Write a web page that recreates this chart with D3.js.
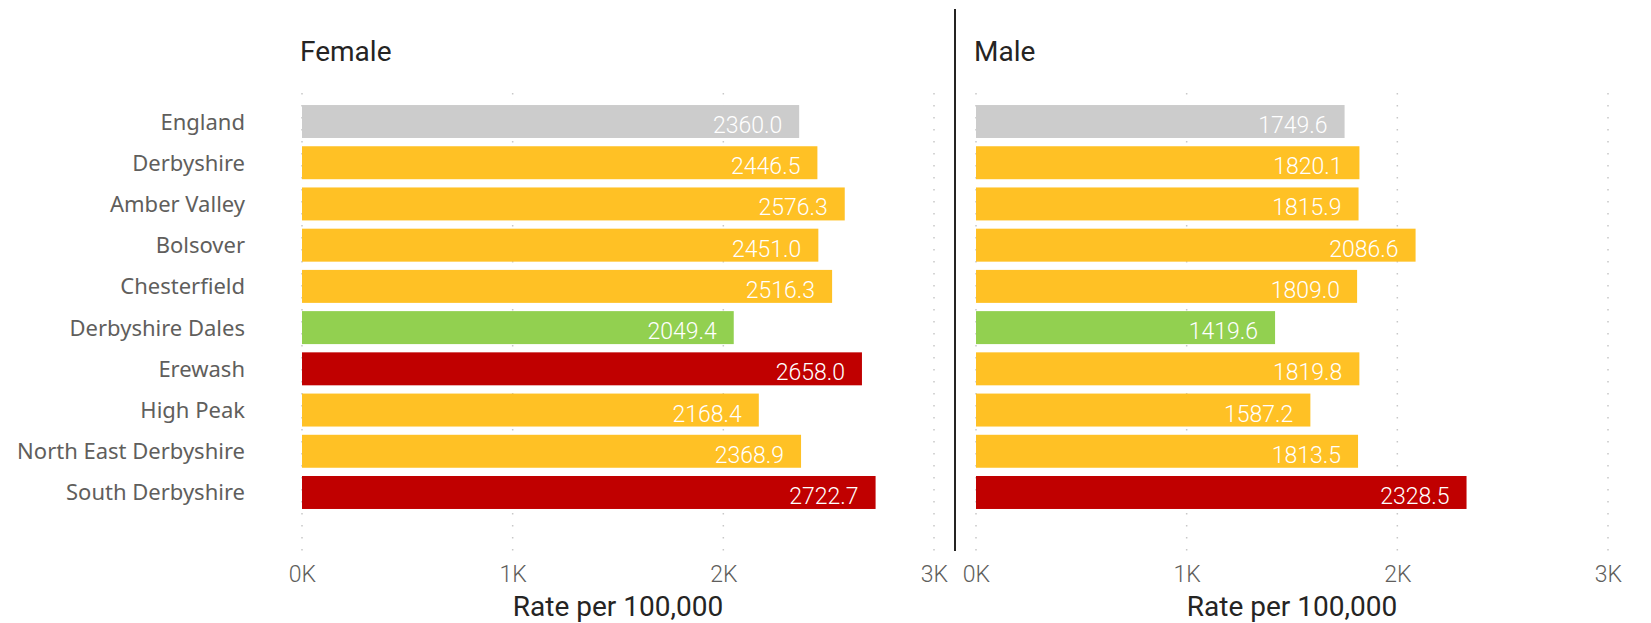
<!DOCTYPE html>
<html>
<head>
<meta charset="utf-8">
<script src="https://cdn.jsdelivr.net/npm/d3@7"></script>
<style>
  body { margin: 0; background: #fff; }
  svg { display: block; }
</style>
</head>
<body>
<div id="chart"></div>
<script>
// Data
const areas = ["England", "Derbyshire", "Amber Valley", "Bolsover", "Chesterfield",
  "Derbyshire Dales", "Erewash", "High Peak", "North East Derbyshire", "South Derbyshire"];
const femaleRates = [2360.0, 2446.5, 2576.3, 2451.0, 2516.3, 2049.4, 2658.0, 2168.4, 2368.9, 2722.7];
const maleRates = [1749.6, 1820.1, 1815.9, 2086.6, 1809.0, 1419.6, 1819.8, 1587.2, 1813.5, 2328.5];
// comparison with England: "eng" = benchmark, "sim" = similar, "low" = better, "high" = worse
const femaleStatus = ["eng", "sim", "sim", "sim", "sim", "low", "high", "sim", "sim", "high"];
const maleStatus = ["eng", "sim", "sim", "sim", "sim", "low", "sim", "sim", "sim", "high"];
const xTicks = [0, 1000, 2000, 3000];

const statusColor = { eng: "#cccccc", sim: "#ffc125", low: "#92d050", high: "#c00000" };

const width = 1651, height = 623;
const svg = d3.select("#chart").append("svg")
    .attr("width", width)
    .attr("height", height);

const y = d3.scaleBand()
    .domain(areas)
    .range([100.9, 513.1])
    .paddingInner(0.2)
    .paddingOuter(0.1);

const gridTop = 93, gridBottom = 553;

// category labels (left side only)
svg.append("g")
    .selectAll("text")
    .data(areas)
    .enter()
    .append("text")
    .attr("x", 245)
    .attr("y", d => y(d) + y.bandwidth() / 2 + 8)
    .attr("text-anchor", "end")
    .style("font-family", "'Noto Sans', 'Open Sans', sans-serif")
    .style("font-size", "22px")
    .style("fill", "#605e5c")
    .text(d => d);

function drawPanel(title, values, status, x0, x1) {
    const x = d3.scaleLinear().domain([0, 3000]).range([x0, x1]);
    const g = svg.append("g");

    // dotted gridlines
    g.append("g")
        .selectAll("line")
        .data(xTicks)
        .enter()
        .append("line")
        .attr("x1", d => x(d))
        .attr("x2", d => x(d))
        .attr("y1", gridTop)
        .attr("y2", gridBottom)
        .attr("stroke", "#c8c8c8")
        .attr("stroke-width", 1.5)
        .attr("stroke-dasharray", "1.5,10.5");

    const rows = areas.map((a, i) => ({ key: a, value: values[i], status: status[i] }));

    g.append("g")
        .selectAll("rect")
        .data(rows)
        .enter()
        .append("rect")
        .attr("x", x(0))
        .attr("y", d => y(d.key))
        .attr("width", d => x(d.value) - x(0))
        .attr("height", y.bandwidth())
        .attr("fill", d => statusColor[d.status]);

    g.append("g")
        .selectAll("text")
        .data(rows)
        .enter()
        .append("text")
        .attr("x", d => x(d.value) - 17)
        .attr("y", d => y(d.key) + y.bandwidth() / 2 + 11.5)
        .attr("text-anchor", "end")
        .style("font-family", "Roboto, sans-serif")
        .style("font-weight", "300")
        .style("font-size", "23px")
        .style("fill", "#ffffff")
        .text(d => d.value.toFixed(1));

    // x axis tick labels
    const axis = g.append("g")
        .attr("transform", `translate(0,${gridBottom})`)
        .call(d3.axisBottom(x).tickValues(xTicks).tickSize(0).tickPadding(0)
            .tickFormat(d => (d / 1000) + "K"));
    axis.select(".domain").remove();
    axis.selectAll("text")
        .attr("y", 29)
        .attr("dy", null)
        .style("font-family", "Roboto, sans-serif")
        .style("font-weight", "300")
        .style("font-size", "23px")
        .style("fill", "#605e5c");

    g.append("text")
        .attr("x", (x0 + x1) / 2)
        .attr("y", 616)
        .attr("text-anchor", "middle")
        .style("font-family", "Roboto, sans-serif")
        .style("font-weight", "400")
        .style("font-size", "28px")
        .style("fill", "#252423")
        .text("Rate per 100,000");

    g.append("text")
        .attr("x", x0 - 2)
        .attr("y", 61)
        .style("font-family", "Roboto, sans-serif")
        .style("font-weight", "400")
        .style("font-size", "28px")
        .style("fill", "#252423")
        .text(title);
}

drawPanel("Female", femaleRates, femaleStatus, 302, 934);
drawPanel("Male", maleRates, maleStatus, 976, 1608);

// divider between the panels
svg.append("line")
    .attr("x1", 955)
    .attr("x2", 955)
    .attr("y1", 9)
    .attr("y2", 551)
    .attr("stroke", "#252423")
    .attr("stroke-width", 2);
</script>
</body>
</html>
